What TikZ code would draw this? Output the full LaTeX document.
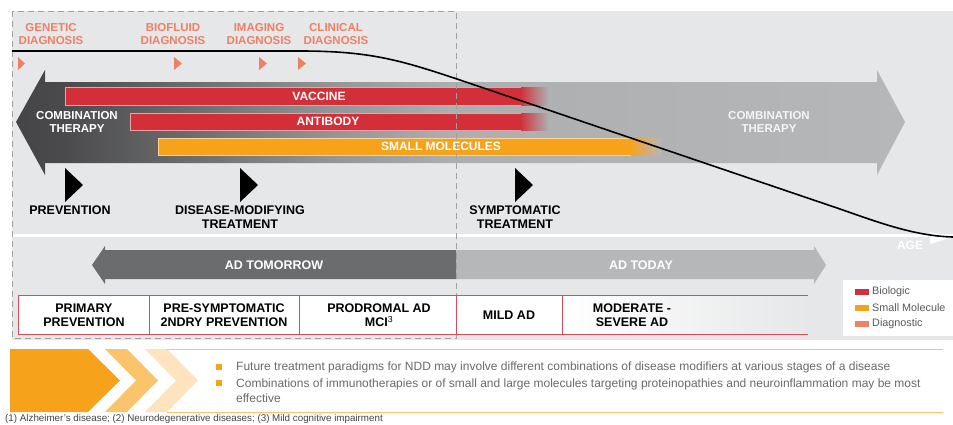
\documentclass[tikz,border=0pt]{standalone}
\usepackage{fontspec}
\setmainfont{Liberation Sans}
\definecolor{panel}{HTML}{E6E7E8}
\definecolor{barred}{HTML}{D22F39}
\definecolor{barorg}{HTML}{F7A21B}
\definecolor{salmon}{HTML}{EF8064}
\definecolor{boxred}{HTML}{E04A58}
\definecolor{gA}{HTML}{454547}
\definecolor{gB}{HTML}{4A4A4C}
\definecolor{gC}{HTML}{6E6F71}
\definecolor{gD}{HTML}{939496}
\definecolor{gE}{HTML}{ADAEB0}
\definecolor{gF}{HTML}{B6B7B9}
\definecolor{darkarrow}{HTML}{6B6C6E}
\definecolor{lightarrow}{HTML}{B6B7B9}
\definecolor{txtgray}{HTML}{6A6A6A}
\definecolor{leggray}{HTML}{5A5A5A}
\definecolor{footgray}{HTML}{444444}
\definecolor{chevA}{HTML}{F7A21B}
\definecolor{chevB}{HTML}{FAC46C}
\definecolor{chevC}{HTML}{FDE4BE}
\definecolor{bandline}{HTML}{F8C470}
\definecolor{dashgray}{HTML}{A0A0A0}
\pgfdeclarehorizontalshading{bigarrow}{100bp}{color(0bp)=(gA); color(25bp)=(gA); color(27.5bp)=(gB); color(35.35bp)=(gC); color(42.66bp)=(gD); color(49.4bp)=(gE); color(75bp)=(gF); color(100bp)=(gF)}
\tikzset{
  lbl/.style={font=\fontsize{12.5}{14}\selectfont\bfseries, text=black, align=center, inner sep=0pt},
  dlbl/.style={font=\fontsize{11.5}{13.5}\selectfont\bfseries, text=salmon, align=center, inner sep=0pt},
  wlbl/.style={font=\fontsize{11.5}{13}\selectfont\bfseries, text=white, align=center, inner sep=0pt},
  barlbl/.style={font=\fontsize{12}{14}\selectfont\bfseries, text=white, inner sep=0pt},
  adlbl/.style={font=\fontsize{12.5}{14}\selectfont\bfseries, text=white, inner sep=0pt},
  leg/.style={font=\fontsize{10.8}{13}\selectfont, text=leggray, inner sep=0pt, anchor=west},
  body/.style={font=\fontsize{12}{15}\selectfont, text=txtgray, inner sep=0pt, anchor=west, align=left},
  foot/.style={font=\fontsize{9.8}{11}\selectfont, text=footgray, inner sep=0pt, anchor=west},
  stagebox/.style={draw=boxred, fill=white, line width=0.8pt},
  baredge/.style={line width=0.7pt},
  diagtri/.style={fill=salmon},
  blacktri/.style={fill=black},
  dashbox/.style={draw=dashgray, line width=1pt, dash pattern=on 6pt off 4pt}
}
\begin{document}
\begin{tikzpicture}[x=1pt,y=-1pt]
\useasboundingbox (0,0) rectangle (953,424);
\fill[white] (0,0) rectangle (953,424);
% panels
\fill[panel] (12,11) rectangle (953,233.5);
\fill[panel] (12,236.5) rectangle (953,340);
% big combination therapy arrow
\path[shading=bigarrow, shading angle=0] (16,122) -- (45,70) -- (45,82) -- (877,82) -- (877,70) -- (905,122) -- (877,175) -- (877,163) -- (45,163) -- (45,175) -- cycle;
% bars
\fill[barred] (65,87) rectangle (521,105);
\shade[left color=barred, right color=gE] (520,87) rectangle (548,105);
\draw[baredge, draw=barred!45!white] (521,87) -- (65,87) -- (65,105) -- (521,105);
\fill[barred] (130,113) rectangle (521,130);
\shade[left color=barred, right color=gE] (520,113) rectangle (548,130);
\draw[baredge, draw=barred!45!white] (521,113) -- (130,113) -- (130,130) -- (521,130);
\fill[barorg] (158,138) rectangle (631,155);
\shade[left color=barorg, right color=gF] (630,138) rectangle (661,155);
\draw[baredge, draw=barorg!45!white] (631,138) -- (158,138) -- (158,155) -- (631,155);
\node[barlbl] (vac) at (319,96.5) {VACCINE};
\node[barlbl] (ab) at (328,121.5) {ANTIBODY};
\node[barlbl] (sm) at (441,146.5) {SMALL MOLECULES};
\node[wlbl] (ctl) at (77,121.5) {COMBINATION\\THERAPY};
\node[wlbl, text=white!92!gray] (ctr) at (769,121.5) {COMBINATION\\THERAPY};
% diagnosis labels and markers
\node[dlbl] (gen) at (51,34) {GENETIC\\DIAGNOSIS};
\node[dlbl] (bio) at (173,34) {BIOFLUID\\DIAGNOSIS};
\node[dlbl] (img) at (259,34) {IMAGING\\DIAGNOSIS};
\node[dlbl] (cli) at (336,34) {CLINICAL\\DIAGNOSIS};
\fill[diagtri] (18,57) -- (25,63.5) -- (18,70) -- cycle;
\fill[diagtri] (174,57) -- (182,63.5) -- (174,70) -- cycle;
\fill[diagtri] (259,57) -- (267,63.5) -- (259,70) -- cycle;
\fill[diagtri] (298,57) -- (306,63.5) -- (298,70) -- cycle;
% treatment markers
\fill[blacktri] (65,168) -- (83,185) -- (65,202) -- cycle;
\fill[blacktri] (240,168) -- (258,185) -- (240,202) -- cycle;
\fill[blacktri] (515,168) -- (533,185) -- (515,202) -- cycle;
\node[lbl] (prev) at (70,210) {PREVENTION};
\node[lbl] (dmt) at (240,217) {DISEASE-MODIFYING\\TREATMENT};
\node[lbl] (sym) at (515,217) {SYMPTOMATIC\\TREATMENT};
% AD arrows
\fill[darkarrow] (92,265) -- (105,246) -- (105,250) -- (456,250) -- (456,279) -- (105,279) -- (105,284) -- cycle;
\fill[lightarrow] (456,250) -- (814,250) -- (814,246) -- (826,265) -- (814,284) -- (814,279) -- (456,279) -- cycle;
\node[adlbl] (tom) at (274,265) {AD TOMORROW};
\node[adlbl] (tod) at (641,265) {AD TODAY};
% dashed frame
\draw[dashbox] (12,11) rectangle (456,338);
% stage boxes
\draw[stagebox] (18,295) rectangle (149,334);
\draw[stagebox] (149,295) rectangle (299,334);
\draw[stagebox] (299,295) rectangle (456,334);
\draw[stagebox] (456,295) rectangle (562,334);
\shade[left color=white, right color=panel] (562,295) rectangle (808,334);
\draw[boxred, line width=0.8pt] (808,295) -- (562,295) -- (562,334) -- (808,334);
\node[lbl] (s1) at (84,315.5) {PRIMARY\\PREVENTION};
\node[lbl] (s2) at (224,315.5) {PRE-SYMPTOMATIC\\2NDRY PREVENTION};
\node[lbl] (s3) at (379,315.5) {PRODROMAL AD\\MCI\textsuperscript{\mdseries 3}};
\node[lbl] (s4) at (509,315.5) {MILD AD};
\node[lbl] (s5) at (632,315.5) {MODERATE -\\SEVERE AD};
% age axis
\fill[white] (930,232) -- (953,237) -- (930,244) -- cycle;
\node[adlbl, font=\fontsize{12}{14}\selectfont\bfseries] (age) at (910,245) {AGE};
% legend
\fill[white] (843,280) rectangle (953,336);
\fill[barred] (855,289) rectangle (869,295);
\fill[barorg] (855,305) rectangle (869,311);
\fill[salmon] (855,321) rectangle (869,327);
\node[leg] (l1) at (872,292) {Biologic};
\node[leg] (l2) at (872,308) {Small Molecule};
\node[leg] (l3) at (872,324) {Diagnostic};
% curve
\draw[line width=1.6pt, black] (12,51) -- (300,51) .. controls (370,51) and (400,60) .. (460,80) -- (840,209) .. controls (880,223) and (915,236) .. (953,237);
% bottom band
\fill[chevA] (10,349) -- (88,349) -- (120,380.5) -- (88,412) -- (10,412) -- cycle;
\fill[chevB] (105,349) -- (127,349) -- (158,380.5) -- (127,412) -- (105,412) -- (136,380.5) -- cycle;
\fill[chevC] (145,349) -- (167,349) -- (198,380.5) -- (167,412) -- (145,412) -- (176,380.5) -- cycle;
\draw[bandline, line width=1pt] (167,349) -- (943,349);
\draw[bandline, line width=1pt] (167,412) -- (943,412);
\fill[barorg] (216,364) rectangle (222,370);
\fill[barorg] (216,380) rectangle (222,386);
\node[body] (b1) at (236,367) {Future treatment paradigms for NDD may involve different combinations of disease modifiers at various stages of a disease};
\node[body] (b2) at (236,390.5) {Combinations of immunotherapies or of small and large molecules targeting proteinopathies and neuroinflammation may be most\\effective};
\node[foot] (fn) at (5,419) {(1) Alzheimer's disease; (2) Neurodegenerative diseases; (3) Mild cognitive impairment};
\end{tikzpicture}
\end{document}
